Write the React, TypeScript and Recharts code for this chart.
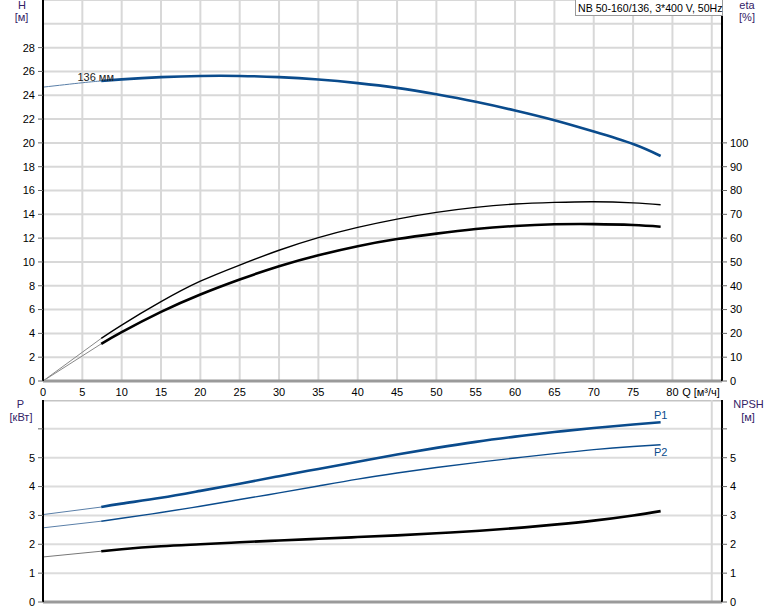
import React from 'react';
import { LineChart, Line, XAxis, YAxis, CartesianGrid, ReferenceLine, ReferenceDot } from 'recharts';

const FONT = '"Liberation Sans", Arial, sans-serif';
const BLUE = '#0a4b8c';

// Tick values
const Q_TICKS = [0, 5, 10, 15, 20, 25, 30, 35, 40, 45, 50, 55, 60, 65, 70, 75, 80];
const H_TICKS = [0, 2, 4, 6, 8, 10, 12, 14, 16, 18, 20, 22, 24, 26, 28];
const ETA_TICKS = [0, 10, 20, 30, 40, 50, 60, 70, 80, 90, 100];
const P_TICKS = [0, 1, 2, 3, 4, 5, 6];
const NPSH_TICKS = [0, 1, 2, 3, 4, 5, 6];

// Flow values (m3/h)
const Q_H = [0, 5, 7.4, 10, 15, 20, 25, 30, 35, 40, 45, 50, 55, 60, 65, 70, 75, 78.5];
const Q_STD = [0, 7.4, 10, 15, 20, 25, 30, 35, 40, 45, 50, 55, 60, 65, 70, 75, 78.5];

// Series values
const H_VALUES = [24.68, 25.05, 25.2, 25.33, 25.52, 25.62, 25.62, 25.52, 25.32, 25.02, 24.62, 24.08, 23.45, 22.72, 21.9, 20.95, 19.9, 18.9];
const ETA_PUMP = [0, 17.9, 23.5, 33.3, 41.9, 48.7, 54.9, 60.2, 64.5, 68.0, 70.8, 72.9, 74.3, 75.0, 75.3, 74.8, 74.0];
const ETA_TOTAL = [0, 15.6, 20.5, 29.0, 36.3, 42.6, 48.2, 52.8, 56.6, 59.6, 61.9, 63.8, 65.1, 65.8, 65.9, 65.5, 64.8];
const P1_VALUES = [3.03, 3.29, 3.41, 3.61, 3.85, 4.10, 4.36, 4.61, 4.86, 5.11, 5.34, 5.55, 5.73, 5.89, 6.03, 6.15, 6.23];
const P2_VALUES = [2.57, 2.80, 2.90, 3.10, 3.32, 3.55, 3.78, 4.02, 4.26, 4.47, 4.66, 4.83, 4.99, 5.14, 5.28, 5.39, 5.45];
const NPSH_VALUES = [1.56, 1.76, 1.83, 1.93, 2.00, 2.07, 2.13, 2.19, 2.25, 2.31, 2.38, 2.46, 2.56, 2.68, 2.82, 3.00, 3.15];

const START_Q = 7.4; // where the operating range (thick line) starts

const rows = (qs: number[], vs: number[]) => qs.map((q, i) => ({ q, v: vs[i] }));
const thin = (r: { q: number; v: number }[]) => r.filter((d) => d.q <= START_Q);
const thick = (r: { q: number; v: number }[]) => r.filter((d) => d.q >= START_Q);

const hRows = rows(Q_H, H_VALUES);
const etaPRows = rows(Q_STD, ETA_PUMP);
const etaTRows = rows(Q_STD, ETA_TOTAL);
const p1Rows = rows(Q_STD, P1_VALUES);
const p2Rows = rows(Q_STD, P2_VALUES);
const npshRows = rows(Q_STD, NPSH_VALUES);

const tickStyle = { fill: '#000', fontSize: 11, fontFamily: FONT };
const Q_MAX = 86.3;

export default function App() {
  return (
    <div style={{ position: 'absolute', left: 0, top: 0, width: 774, height: 611, background: '#fff' }}>
      <div style={{ position: 'absolute', left: 0, top: 0 }}>
        <LineChart width={774} height={400} margin={{ top: 0, right: 0, bottom: 0, left: 0 }}>
          <CartesianGrid yAxisId="h" stroke="#d8d8d8" strokeWidth={2} />
          <XAxis
            type="number"
            dataKey="q"
            domain={[0, Q_MAX]}
            ticks={Q_TICKS}
            height={19}
            tickLine={false}
            tickSize={6}
            tickMargin={1}
            axisLine={{ stroke: '#9a9a9a', strokeWidth: 3 }}
            tick={tickStyle}
            allowDataOverflow
          />
          <YAxis
            yAxisId="h"
            orientation="left"
            width={43}
            domain={[0, 32]}
            ticks={H_TICKS}
            tickSize={5}
            tickMargin={3}
            axisLine={{ stroke: '#000', strokeWidth: 2 }}
            tickLine={{ stroke: '#666' }}
            tick={tickStyle}
          />
          <YAxis
            yAxisId="eta"
            orientation="right"
            width={52}
            domain={[0, 160]}
            ticks={ETA_TICKS}
            tickSize={5}
            tickMargin={3}
            axisLine={{ stroke: '#000', strokeWidth: 2 }}
            tickLine={{ stroke: '#666' }}
            tick={{ ...tickStyle, textAnchor: 'start' }}
          />
          <ReferenceLine yAxisId="h" y={30} stroke="#d8d8d8" strokeWidth={2} />
          <ReferenceLine yAxisId="h" x={85} stroke="#d8d8d8" strokeWidth={2} />
          <Line yAxisId="h" data={thin(hRows)} dataKey="v" type="natural" stroke="#5a7fa8" strokeWidth={1} dot={false} isAnimationActive={false} />
          <Line yAxisId="h" data={thick(hRows)} dataKey="v" type="natural" stroke={BLUE} strokeWidth={2.6} dot={false} isAnimationActive={false} />
          <Line yAxisId="eta" data={thin(etaPRows)} dataKey="v" type="linear" stroke="#888" strokeWidth={1} dot={false} isAnimationActive={false} />
          <Line yAxisId="eta" data={thick(etaPRows)} dataKey="v" type="natural" stroke="#000" strokeWidth={1.4} dot={false} isAnimationActive={false} />
          <Line yAxisId="eta" data={thin(etaTRows)} dataKey="v" type="linear" stroke="#888" strokeWidth={1} dot={false} isAnimationActive={false} />
          <Line yAxisId="eta" data={thick(etaTRows)} dataKey="v" type="natural" stroke="#000" strokeWidth={2.6} dot={false} isAnimationActive={false} />
          <ReferenceDot
            yAxisId="h"
            x={6.7}
            y={25.55}
            r={0}
            fill="none"
            stroke="none"
            label={{ value: '136 мм', position: 'center', fill: '#222', fontSize: 11, fontFamily: FONT }}
          />
        </LineChart>
      </div>
      <div style={{ position: 'absolute', left: 0, top: 400 }}>
        <LineChart width={774} height={211} margin={{ top: 0, right: 0, bottom: 0, left: 0 }}>
          <CartesianGrid yAxisId="p" stroke="#dcdcdc" strokeWidth={2} />
          <XAxis
            type="number"
            dataKey="q"
            domain={[0, Q_MAX]}
            ticks={Q_TICKS}
            height={9}
            tick={false}
            tickLine={false}
            axisLine={{ stroke: '#9a9a9a', strokeWidth: 3 }}
            allowDataOverflow
          />
          <YAxis
            yAxisId="p"
            orientation="left"
            width={43}
            domain={[0, 7]}
            ticks={P_TICKS}
            tickFormatter={(v: number) => (v === 6 ? '' : String(v))}
            tickSize={5}
            tickMargin={3}
            axisLine={{ stroke: '#000', strokeWidth: 2 }}
            tickLine={{ stroke: '#666' }}
            tick={tickStyle}
          />
          <YAxis
            yAxisId="npsh"
            orientation="right"
            width={52}
            domain={[0, 7]}
            ticks={NPSH_TICKS}
            tickFormatter={(v: number) => (v === 6 ? '' : String(v))}
            tickSize={5}
            tickMargin={3}
            axisLine={{ stroke: '#000', strokeWidth: 2 }}
            tickLine={{ stroke: '#666' }}
            tick={{ ...tickStyle, textAnchor: 'start' }}
          />
          <ReferenceLine yAxisId="p" y={7} stroke="#c4c4c4" strokeWidth={3} />
          <ReferenceLine yAxisId="p" x={85} stroke="#d8d8d8" strokeWidth={2} />
          <Line yAxisId="p" data={thin(p1Rows)} dataKey="v" type="linear" stroke="#5a7fa8" strokeWidth={1} dot={false} isAnimationActive={false} />
          <Line yAxisId="p" data={thick(p1Rows)} dataKey="v" type="natural" stroke={BLUE} strokeWidth={2.6} dot={false} isAnimationActive={false} />
          <Line yAxisId="p" data={thin(p2Rows)} dataKey="v" type="linear" stroke="#5a7fa8" strokeWidth={1} dot={false} isAnimationActive={false} />
          <Line yAxisId="p" data={thick(p2Rows)} dataKey="v" type="natural" stroke={BLUE} strokeWidth={1.4} dot={false} isAnimationActive={false} />
          <Line yAxisId="npsh" data={thin(npshRows)} dataKey="v" type="linear" stroke="#777" strokeWidth={1} dot={false} isAnimationActive={false} />
          <Line yAxisId="npsh" data={thick(npshRows)} dataKey="v" type="natural" stroke="#000" strokeWidth={2.6} dot={false} isAnimationActive={false} />
          <ReferenceDot
            yAxisId="p"
            x={78.5}
            y={6.46}
            r={0}
            fill="none"
            stroke="none"
            label={{ value: 'P1', position: 'center', fill: BLUE, fontSize: 11, fontFamily: FONT }}
          />
          <ReferenceDot
            yAxisId="p"
            x={78.5}
            y={5.21}
            r={0}
            fill="none"
            stroke="none"
            label={{ value: 'P2', position: 'center', fill: BLUE, fontSize: 11, fontFamily: FONT }}
          />
        </LineChart>
      </div>
      <svg
        width={774}
        height={611}
        style={{ position: 'absolute', left: 0, top: 0, pointerEvents: 'none' }}
        fontFamily={FONT}
        fontSize={11}
      >
        <rect x={575.5} y={-1} width={147} height={16.5} fill="#fff" stroke="#9a9a9a" strokeWidth={1} />
        <text x={578} y={11.5} fill="#000" fontSize={10.6}>NB 50-160/136, 3*400 V, 50Hz</text>
        <text x={22} y={9} textAnchor="middle" fill="#332266">H</text>
        <text x={21.5} y={21} textAnchor="middle" fill="#332266">[м]</text>
        <text x={747} y={9} textAnchor="middle" fill="#332266">eta</text>
        <text x={747} y={21} textAnchor="middle" fill="#332266">[%]</text>
        <text x={701} y={396} textAnchor="middle" fill="#000">Q [м³/ч]</text>
        <text x={20.5} y={408} textAnchor="middle" fill="#332266">P</text>
        <text x={21} y={421} textAnchor="middle" fill="#332266">[кВт]</text>
        <text x={748.5} y={408} textAnchor="middle" fill="#332266">NPSH</text>
        <text x={748} y={421} textAnchor="middle" fill="#332266">[м]</text>
      </svg>
    </div>
  );
}
